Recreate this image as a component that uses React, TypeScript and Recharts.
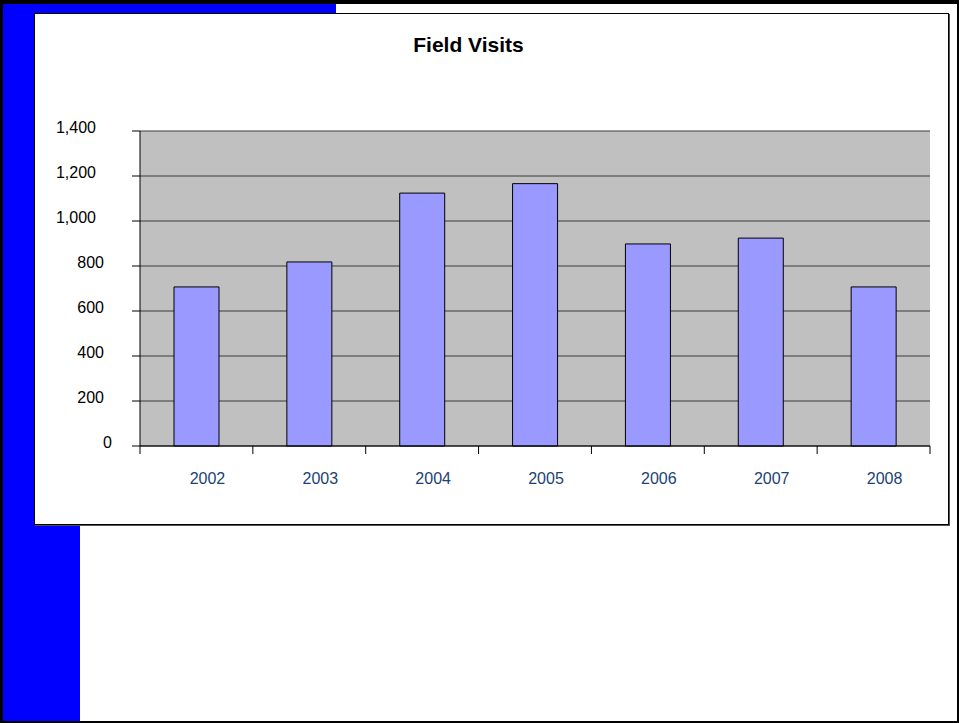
import { BarChart, Bar, XAxis, YAxis, CartesianGrid } from "recharts";

const years = ["2002", "2003", "2004", "2005", "2006", "2007", "2008"];
const visits = [707, 818, 1124, 1166, 898, 924, 707];
const yTicks = [0, 200, 400, 600, 800, 1000, 1200, 1400];

const data = years.map((year, i) => ({ year, visits: visits[i] }));

const FONT = '"Liberation Sans", Arial, sans-serif';

const YTick = ({ x, y, payload }: any) => {
  const label = Number(payload.value).toLocaleString("en-US");
  return (
    <text
      x={x - 14 - 4 * label.length}
      y={y - 4}
      dy="0.355em"
      textAnchor="end"
      fontFamily={FONT}
      fontSize={16}
      fill="#000"
    >
      {label}
    </text>
  );
};

const XTick = ({ x, y, payload, index }: any) => {
  const half = payload.offset ?? 790 / years.length / 2;
  const isLast = index === years.length - 1;
  return (
    <g>
      <line x1={x - half} x2={x - half} y1={y} y2={y + 8} stroke="#000" />
      {isLast && (
        <line x1={x + half} x2={x + half} y1={y} y2={y + 8} stroke="#000" />
      )}
      <text
        x={x + 11}
        y={y + 32}
        dy="0.355em"
        textAnchor="middle"
        fontFamily={FONT}
        fontSize={16}
        fill="#1a4373"
      >
        {payload.value}
      </text>
    </g>
  );
};

export default function App() {
  return (
    <div
      style={{
        position: "absolute",
        left: 0,
        top: 0,
        width: 959,
        height: 723,
        background: "#fff",
        overflow: "hidden",
      }}
    >
      {/* slide frame */}
      <div
        style={{
          position: "absolute",
          left: 0,
          top: 0,
          width: 959,
          height: 723,
          boxSizing: "border-box",
          borderLeft: "3px solid #000",
          borderTop: "4px solid #000",
          borderRight: "2px solid #000",
          borderBottom: "2px solid #000",
        }}
      />
      <div
        style={{
          position: "absolute",
          left: 3,
          top: 4,
          width: 333,
          height: 9,
          background: "#0000ff",
        }}
      />
      <div
        style={{
          position: "absolute",
          left: 3,
          top: 4,
          width: 77,
          height: 717,
          background: "#0000ff",
        }}
      />
      {/* chart box */}
      <div
        style={{
          position: "absolute",
          left: 34,
          top: 13,
          width: 915,
          height: 512,
          boxSizing: "border-box",
          background: "#fff",
          border: "1px solid #000",
          boxShadow: "1px 1px 0 #555",
        }}
      />
      <div
        style={{
          position: "absolute",
          left: 0,
          top: 35,
          width: 937,
          textAlign: "center",
          fontFamily: FONT,
          fontWeight: "bold",
          fontSize: 21,
          lineHeight: "20px",
          color: "#000",
        }}
      >
        Field Visits
      </div>
      <div style={{ position: "absolute", left: 34, top: 13 }}>
        <BarChart
          width={915}
          height={512}
          data={data}
          margin={{ top: 118, right: 19, bottom: 0, left: 0 }}
        >
          <CartesianGrid
            vertical={false}
            fill="#c0c0c0"
            fillOpacity={1}
            stroke="#3a3a3a"
          />
          <XAxis
            dataKey="year"
            height={79}
            axisLine={{ stroke: "#000" }}
            tickLine={false}
            tickSize={0}
            tickMargin={0}
            tick={<XTick />}
            interval={0}
          />
          <YAxis
            width={106}
            domain={[0, 1400]}
            ticks={yTicks}
            interval={0}
            axisLine={{ stroke: "#000" }}
            tickLine={{ stroke: "#000" }}
            tickSize={8}
            tickMargin={2}
            tick={<YTick />}
          />
          <Bar
            dataKey="visits"
            fill="#9999ff"
            stroke="#000"
            strokeWidth={1}
            barSize={45}
            isAnimationActive={false}
          />
        </BarChart>
      </div>
    </div>
  );
}
